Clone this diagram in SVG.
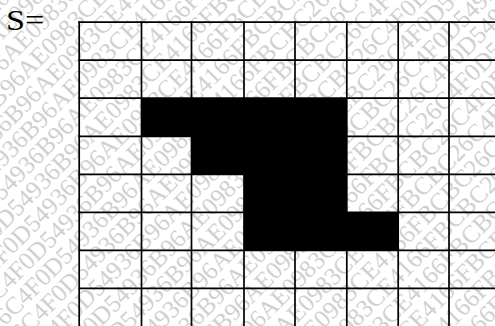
<svg xmlns="http://www.w3.org/2000/svg" width="495" height="326" viewBox="0 0 495 326">
<style>
.wm{font-family:"Liberation Serif","Times New Roman",serif;font-size:25px;fill:#d0d0d0}
.gl{stroke:#000;stroke-width:1.7;fill:none;stroke-linecap:square}
.cell{fill:#000}
.lbl{font-family:"Liberation Serif","Times New Roman",serif;font-size:28.5px;fill:#000}
</style>
<rect width="495" height="326" fill="#fff"/>
<g id="watermark" transform="rotate(-45)">
<text class="wm" x="-663.7" y="-15.3">C4F0D54936B96AE0983CE4166FBCBC26C4F0D54936B96AE0983CE4166FBCBC26C4F0D54936B96AE0983CE4166FBCBC26C4F0D54936B96AE0983CE4166FBCBC26</text>
<text class="wm" x="-663.7" y="7.4">C4F0D54936B96AE0983CE4166FBCBC26C4F0D54936B96AE0983CE4166FBCBC26C4F0D54936B96AE0983CE4166FBCBC26C4F0D54936B96AE0983CE4166FBCBC26</text>
<text class="wm" x="-663.7" y="30.1">C4F0D54936B96AE0983CE4166FBCBC26C4F0D54936B96AE0983CE4166FBCBC26C4F0D54936B96AE0983CE4166FBCBC26C4F0D54936B96AE0983CE4166FBCBC26</text>
<text class="wm" x="-663.7" y="52.8">C4F0D54936B96AE0983CE4166FBCBC26C4F0D54936B96AE0983CE4166FBCBC26C4F0D54936B96AE0983CE4166FBCBC26C4F0D54936B96AE0983CE4166FBCBC26</text>
<text class="wm" x="-663.7" y="75.5">C4F0D54936B96AE0983CE4166FBCBC26C4F0D54936B96AE0983CE4166FBCBC26C4F0D54936B96AE0983CE4166FBCBC26C4F0D54936B96AE0983CE4166FBCBC26</text>
<text class="wm" x="-663.7" y="98.2">C4F0D54936B96AE0983CE4166FBCBC26C4F0D54936B96AE0983CE4166FBCBC26C4F0D54936B96AE0983CE4166FBCBC26C4F0D54936B96AE0983CE4166FBCBC26</text>
<text class="wm" x="-663.7" y="120.9">C4F0D54936B96AE0983CE4166FBCBC26C4F0D54936B96AE0983CE4166FBCBC26C4F0D54936B96AE0983CE4166FBCBC26C4F0D54936B96AE0983CE4166FBCBC26</text>
<text class="wm" x="-663.7" y="143.6">C4F0D54936B96AE0983CE4166FBCBC26C4F0D54936B96AE0983CE4166FBCBC26C4F0D54936B96AE0983CE4166FBCBC26C4F0D54936B96AE0983CE4166FBCBC26</text>
<text class="wm" x="-663.7" y="166.3">C4F0D54936B96AE0983CE4166FBCBC26C4F0D54936B96AE0983CE4166FBCBC26C4F0D54936B96AE0983CE4166FBCBC26C4F0D54936B96AE0983CE4166FBCBC26</text>
<text class="wm" x="-663.7" y="189.0">C4F0D54936B96AE0983CE4166FBCBC26C4F0D54936B96AE0983CE4166FBCBC26C4F0D54936B96AE0983CE4166FBCBC26C4F0D54936B96AE0983CE4166FBCBC26</text>
<text class="wm" x="-663.7" y="211.7">C4F0D54936B96AE0983CE4166FBCBC26C4F0D54936B96AE0983CE4166FBCBC26C4F0D54936B96AE0983CE4166FBCBC26C4F0D54936B96AE0983CE4166FBCBC26</text>
<text class="wm" x="-663.7" y="234.4">C4F0D54936B96AE0983CE4166FBCBC26C4F0D54936B96AE0983CE4166FBCBC26C4F0D54936B96AE0983CE4166FBCBC26C4F0D54936B96AE0983CE4166FBCBC26</text>
<text class="wm" x="-663.7" y="257.1">C4F0D54936B96AE0983CE4166FBCBC26C4F0D54936B96AE0983CE4166FBCBC26C4F0D54936B96AE0983CE4166FBCBC26C4F0D54936B96AE0983CE4166FBCBC26</text>
<text class="wm" x="-663.7" y="279.8">C4F0D54936B96AE0983CE4166FBCBC26C4F0D54936B96AE0983CE4166FBCBC26C4F0D54936B96AE0983CE4166FBCBC26C4F0D54936B96AE0983CE4166FBCBC26</text>
<text class="wm" x="-663.7" y="302.5">C4F0D54936B96AE0983CE4166FBCBC26C4F0D54936B96AE0983CE4166FBCBC26C4F0D54936B96AE0983CE4166FBCBC26C4F0D54936B96AE0983CE4166FBCBC26</text>
<text class="wm" x="-663.7" y="325.2">C4F0D54936B96AE0983CE4166FBCBC26C4F0D54936B96AE0983CE4166FBCBC26C4F0D54936B96AE0983CE4166FBCBC26C4F0D54936B96AE0983CE4166FBCBC26</text>
<text class="wm" x="-663.7" y="347.9">C4F0D54936B96AE0983CE4166FBCBC26C4F0D54936B96AE0983CE4166FBCBC26C4F0D54936B96AE0983CE4166FBCBC26C4F0D54936B96AE0983CE4166FBCBC26</text>
<text class="wm" x="-663.7" y="370.6">C4F0D54936B96AE0983CE4166FBCBC26C4F0D54936B96AE0983CE4166FBCBC26C4F0D54936B96AE0983CE4166FBCBC26C4F0D54936B96AE0983CE4166FBCBC26</text>
<text class="wm" x="-663.7" y="393.3">C4F0D54936B96AE0983CE4166FBCBC26C4F0D54936B96AE0983CE4166FBCBC26C4F0D54936B96AE0983CE4166FBCBC26C4F0D54936B96AE0983CE4166FBCBC26</text>
<text class="wm" x="-663.7" y="416.0">C4F0D54936B96AE0983CE4166FBCBC26C4F0D54936B96AE0983CE4166FBCBC26C4F0D54936B96AE0983CE4166FBCBC26C4F0D54936B96AE0983CE4166FBCBC26</text>
<text class="wm" x="-663.7" y="438.7">C4F0D54936B96AE0983CE4166FBCBC26C4F0D54936B96AE0983CE4166FBCBC26C4F0D54936B96AE0983CE4166FBCBC26C4F0D54936B96AE0983CE4166FBCBC26</text>
<text class="wm" x="-663.7" y="461.4">C4F0D54936B96AE0983CE4166FBCBC26C4F0D54936B96AE0983CE4166FBCBC26C4F0D54936B96AE0983CE4166FBCBC26C4F0D54936B96AE0983CE4166FBCBC26</text>
<text class="wm" x="-663.7" y="484.1">C4F0D54936B96AE0983CE4166FBCBC26C4F0D54936B96AE0983CE4166FBCBC26C4F0D54936B96AE0983CE4166FBCBC26C4F0D54936B96AE0983CE4166FBCBC26</text>
<text class="wm" x="-663.7" y="506.8">C4F0D54936B96AE0983CE4166FBCBC26C4F0D54936B96AE0983CE4166FBCBC26C4F0D54936B96AE0983CE4166FBCBC26C4F0D54936B96AE0983CE4166FBCBC26</text>
<text class="wm" x="-663.7" y="529.5">C4F0D54936B96AE0983CE4166FBCBC26C4F0D54936B96AE0983CE4166FBCBC26C4F0D54936B96AE0983CE4166FBCBC26C4F0D54936B96AE0983CE4166FBCBC26</text>
<text class="wm" x="-663.7" y="552.2">C4F0D54936B96AE0983CE4166FBCBC26C4F0D54936B96AE0983CE4166FBCBC26C4F0D54936B96AE0983CE4166FBCBC26C4F0D54936B96AE0983CE4166FBCBC26</text>
<text class="wm" x="-663.7" y="574.9">C4F0D54936B96AE0983CE4166FBCBC26C4F0D54936B96AE0983CE4166FBCBC26C4F0D54936B96AE0983CE4166FBCBC26C4F0D54936B96AE0983CE4166FBCBC26</text>
<text class="wm" x="-663.7" y="597.6">C4F0D54936B96AE0983CE4166FBCBC26C4F0D54936B96AE0983CE4166FBCBC26C4F0D54936B96AE0983CE4166FBCBC26C4F0D54936B96AE0983CE4166FBCBC26</text>
</g>
<g id="label">
<text class="lbl" transform="translate(6,30.3) scale(1.2,1)">S=</text>
</g>
<g id="filled-cells">
<rect class="cell" x="141.5" y="98.2" width="205.3" height="38.1"/>
<rect class="cell" x="191.5" y="136.3" width="155.3" height="38"/>
<rect class="cell" x="244" y="174.3" width="102.8" height="38"/>
<rect class="cell" x="244" y="212.3" width="154.2" height="38"/>
</g>
<g id="grid">
<path class="gl" d="M79.2 22.2H500M79.2 60.2H500M79.2 98.2H500M79.2 136.3H500M79.2 174.3H500M79.2 212.3H500M79.2 250.3H500M79.2 288.3H500"/>
<path class="gl" d="M79.2 22.2V330M141.5 22.2V330M191.5 22.2V330M244 22.2V330M295 22.2V330M346.8 22.2V330M398.2 22.2V330M449 22.2V330"/>
</g>
</svg>
